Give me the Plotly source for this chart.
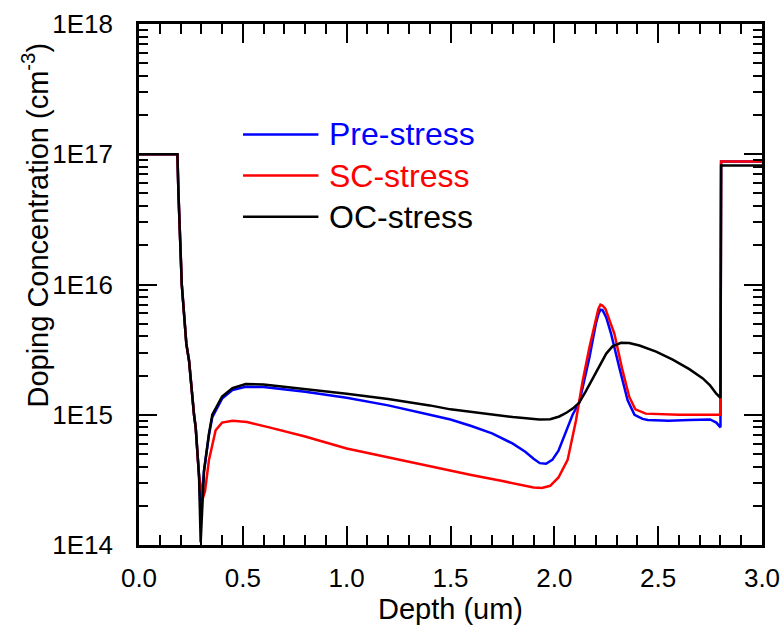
import plotly.graph_objects as go

# ---------------- data ----------------
pre_x = [0, 0.185, 0.19, 0.195, 0.206, 0.228, 0.241, 0.265, 0.273, 0.289, 0.298, 0.313, 0.337, 0.353, 0.40, 0.45,
         0.514, 0.6, 0.8, 1.0, 1.2, 1.4, 1.5, 1.6, 1.7, 1.8, 1.86, 1.9, 1.93, 1.96, 1.99, 2.02, 2.05, 2.088,
         2.12, 2.145, 2.169, 2.2, 2.212, 2.222, 2.232, 2.25, 2.273, 2.313, 2.353, 2.386, 2.425, 2.45, 2.55,
         2.65, 2.75, 2.78, 2.8, 2.803, 3.0]
pre_y = [1e17, 1e17, 5e16, 3.2e16, 1e16, 3.5e15, 2.6e15, 1e15, 8e14, 3.4e14, 1.7e14, 3.7e14, 7.0e14, 9.6e14, 1.33e15, 1.55e15,
         1.64e15, 1.63e15, 1.5e15, 1.35e15, 1.18e15, 1.0e15, 9.2e14, 8.2e14, 7.2e14, 6.0e14, 5.2e14, 4.6e14, 4.25e14, 4.2e14, 4.5e14, 5.3e14, 7.0e14, 1.0e15,
         1.24e15, 1.85e15, 2.75e15, 5.0e15, 5.9e15, 6.4e15, 6.35e15, 5.6e15, 4.2e15, 2.3e15, 1.29e15, 1.0e15, 9.3e14, 9.1e14, 9.0e14,
         9.1e14, 9.2e14, 8.7e14, 8.0e14, 8.8e16, 8.8e16]

sc_x = [0, 0.185, 0.19, 0.195, 0.206, 0.228, 0.241, 0.265, 0.273, 0.289, 0.3, 0.308, 0.318, 0.337, 0.369, 0.40,
        0.45, 0.52, 0.627, 0.8, 1.0, 1.2, 1.4, 1.5, 1.6, 1.75, 1.85, 1.9, 1.94, 1.98, 2.02, 2.064, 2.104, 2.136,
        2.169, 2.2, 2.212, 2.222, 2.232, 2.246, 2.289, 2.328, 2.361, 2.39, 2.44, 2.6, 2.8, 2.803, 3.0]
sc_y = [1e17, 1e17, 5e16, 3.2e16, 1e16, 3.5e15, 2.6e15, 1e15, 8e14, 3.4e14, 2.6e14, 2.3e14, 2.6e14, 4.5e14, 7.6e14, 8.7e14,
        9.0e14, 8.8e14, 8.0e14, 6.8e14, 5.5e14, 4.7e14, 4.0e14, 3.7e14, 3.45e14, 3.1e14, 2.85e14, 2.76e14, 2.74e14, 2.85e14, 3.3e14, 4.5e14, 9.0e14, 1.8e15,
        3.3e15, 5.6e15, 6.5e15, 7.0e15, 6.9e15, 6.5e15, 4.2e15, 2.2e15, 1.37e15, 1.1e15, 1.02e15, 1.0e15, 1.0e15, 8.8e16, 8.8e16]

oc_x = [0, 0.185, 0.19, 0.195, 0.206, 0.228, 0.241, 0.265, 0.273, 0.289, 0.297, 0.313, 0.337, 0.353, 0.40, 0.45,
        0.514, 0.6, 0.8, 1.0, 1.2, 1.4, 1.5, 1.7, 1.8, 1.928, 1.98, 2.024, 2.06, 2.09, 2.12, 2.15, 2.185, 2.22,
        2.25, 2.28, 2.321, 2.36, 2.41, 2.49, 2.57, 2.65, 2.715, 2.75, 2.78, 2.8, 2.803, 3.0]
oc_y = [1e17, 1e17, 5e16, 3.2e16, 1e16, 3.5e15, 2.6e15, 1e15, 8e14, 3.4e14, 1.05e14, 3.7e14, 7.2e14, 1.0e15, 1.38e15, 1.6e15,
        1.72e15, 1.71e15, 1.58e15, 1.45e15, 1.32e15, 1.18e15, 1.1e15, 1.0e15, 9.6e14, 9.2e14, 9.25e14, 9.7e14, 1.04e15, 1.12e15, 1.24e15, 1.5e15, 1.9e15, 2.45e15,
        2.95e15, 3.35e15, 3.57e15, 3.55e15, 3.4e15, 3.05e15, 2.65e15, 2.24e15, 1.9e15, 1.68e15, 1.45e15, 1.35e15, 8.2e16, 8.2e16]

series_names = ["Pre-stress", "SC-stress", "OC-stress"]
series_colors = ["#0000FF", "#FF0000", "#000000"]

y_tickvals = [1e14, 1e15, 1e16, 1e17, 1e18]
y_ticktext = ["1E14", "1E15", "1E16", "1E17", "1E18"]
x_tickvals = [0.0, 0.5, 1.0, 1.5, 2.0, 2.5, 3.0]
x_ticktext = ["0.0", "0.5", "1.0", "1.5", "2.0", "2.5", "3.0"]

FONT = "Arial, Liberation Sans, sans-serif"

fig = go.Figure()
for xs, ys, name, color in zip([pre_x, sc_x, oc_x], [pre_y, sc_y, oc_y], series_names, series_colors):
    fig.add_trace(go.Scatter(x=xs, y=ys, mode="lines", name=name,
                             line=dict(color=color, width=2.5), showlegend=False))

# manual legend (long line samples, coloured text)
leg_y = [0.788, 0.709, 0.630]
for name, color, yy in zip(series_names, series_colors, leg_y):
    fig.add_shape(type="line", xref="paper", yref="paper", x0=0.167, x1=0.288, y0=yy, y1=yy,
                  line=dict(color=color, width=2.5))
    fig.add_annotation(xref="paper", yref="paper", x=0.301, y=yy, xanchor="left", yanchor="middle",
                       text=name, showarrow=False, font=dict(family=FONT, size=32, color=color))

# y-axis title as annotation (sits above centre in reference)
fig.add_annotation(xref="paper", yref="paper", x=-0.167, y=0.615, xanchor="center", yanchor="middle",
                   text="Doping Concentration (cm<sup>-3</sup>)", textangle=-90, showarrow=False,
                   font=dict(family=FONT, size=29, color="black"))

fig.update_layout(
    width=781, height=625,
    margin=dict(l=139, r=19, t=24, b=80),
    paper_bgcolor="white", plot_bgcolor="white",
    font=dict(family=FONT, color="black"),
    xaxis=dict(range=[0, 3], tickvals=x_tickvals, ticktext=x_ticktext, automargin=False,
               ticks="inside", ticklen=19, tickwidth=2, tickcolor="black",
               minor=dict(ticks="inside", ticklen=10, tickwidth=2, tickcolor="black", dtick=0.1, showgrid=False),
               showline=True, linewidth=2.5, linecolor="black", mirror="ticks",
               showgrid=False, zeroline=False,
               tickfont=dict(family=FONT, size=26), ticklabelstandoff=8,
               title=dict(text="Depth (um)", font=dict(family=FONT, size=29), standoff=2)),
    yaxis=dict(type="log", range=[14, 18], tickvals=y_tickvals, ticktext=y_ticktext, automargin=False,
               ticks="inside", ticklen=18, tickwidth=2, tickcolor="black",
               minor=dict(ticks="inside", ticklen=9, tickwidth=2, tickcolor="black", dtick="D1", showgrid=False),
               showline=True, linewidth=2.5, linecolor="black", mirror="ticks",
               showgrid=False, zeroline=False,
               tickfont=dict(family=FONT, size=26), ticklabelstandoff=18),
)

fig.write_html("out.html")
